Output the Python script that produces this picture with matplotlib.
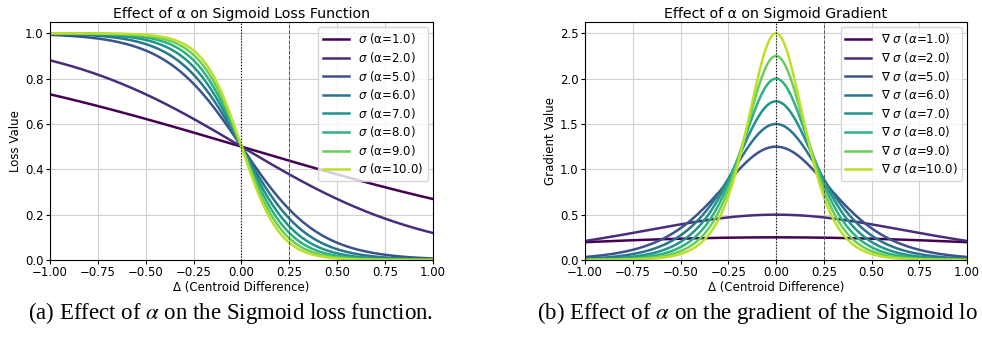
import numpy as np
import matplotlib
matplotlib.use("Agg")
import matplotlib.pyplot as plt

# alpha values shown in the legends
alphas = [1.0, 2.0, 5.0, 6.0, 7.0, 8.0, 9.0, 10.0]
delta = np.linspace(-1.0, 1.0, 400)

titles = ["Effect of α on Sigmoid Loss Function", "Effect of α on Sigmoid Gradient"]
ylabels = ["Loss Value", "Gradient Value"]
xlabel = "Δ (Centroid Difference)"
# the second caption is cut at the page edge in the reference
captions = [r"(a) Effect of $\alpha$ on the Sigmoid loss function.",
            r"(b) Effect of $\alpha$ on the gradient of the Sigmoid lo"]
xticks = [-1.0, -0.75, -0.5, -0.25, 0.0, 0.25, 0.5, 0.75, 1.0]


def sigmoid_loss(d, a):
    return 1.0 / (1.0 + np.exp(a * d))


def sigmoid_grad(d, a):
    s = sigmoid_loss(d, a)
    return a * s * (1.0 - s)


fig = plt.figure(figsize=(9.82, 3.38), dpi=100)
W, H = 982, 338
ax1 = fig.add_axes([50 / W, 1 - 260 / H, (433 - 50) / W, (260 - 22) / H])
ax2 = fig.add_axes([585 / W, 1 - 260 / H, (967 - 585) / W, (260 - 22) / H])

colors = plt.cm.viridis(np.linspace(0, 0.9, len(alphas)))

for i, a in enumerate(alphas):
    ax1.plot(delta, sigmoid_loss(delta, a), color=colors[i], lw=1.8,
             label=r"$\sigma$ (α=%.1f)" % a)
    ax2.plot(delta, sigmoid_grad(delta, a), color=colors[i], lw=1.8,
             label=r"$\nabla$ $\sigma$ ($\alpha$=%.1f)" % a)

for k, ax in enumerate([ax1, ax2]):
    ax.axvline(0, color="k", linestyle=":", lw=0.8)
    ax.axvline(0.25, color="#555555", linestyle="--", lw=0.7)
    ax.set_xlim(-1, 1)
    ax.set_ylim(bottom=0)
    ax.set_xticks(xticks)
    ax.grid(True, color="#d0d0d0", lw=0.8)
    ax.set_title(titles[k], fontsize=10.2, pad=3)
    ax.set_xlabel(xlabel, fontsize=8.5, labelpad=1)
    ax.set_ylabel(ylabels[k], fontsize=8.5, labelpad=2)
    ax.tick_params(labelsize=8.5, length=3, pad=1.5)
    ax.legend(loc="upper right", fontsize=8.5, labelspacing=0.3,
              handlelength=2.2, borderaxespad=0.4)

fig.text(28 / W, 1 - 313 / H, captions[0], family="Liberation Serif",
         math_fontfamily="stix", fontsize=16.5, va="center", ha="left")
fig.text(537 / W, 1 - 313 / H, captions[1], family="Liberation Serif",
         math_fontfamily="stix", fontsize=16.5, va="center", ha="left")

fig.savefig("out.png", dpi=100)
